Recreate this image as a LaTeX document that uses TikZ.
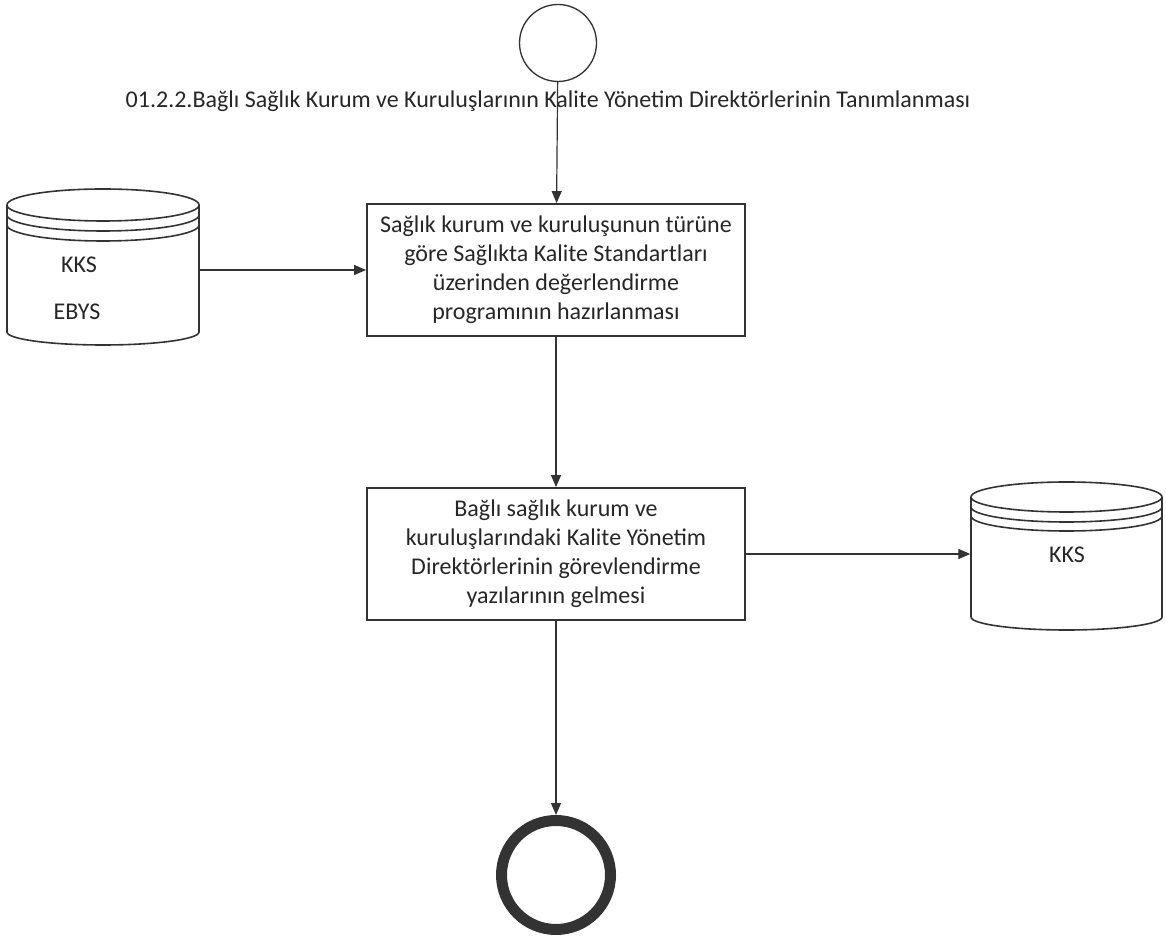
\documentclass[tikz,border=0pt]{standalone}
\usepackage{fontspec}
\setmainfont{Carlito}
\usepackage{tikz}
\usetikzlibrary{arrows.meta,calc,shapes.geometric}

\begin{document}
\begin{tikzpicture}[x=0.75pt,y=0.75pt,
		line width=1pt,draw=black!80,
		txt/.style={font=\fontsize{18}{21.75}\selectfont,text=black!85},
		procbox/.style={draw,line width=1.4pt,minimum width=283.5pt,minimum height=99pt,
			align=center,inner sep=0pt,txt},
		flow/.style={-{Triangle[length=9pt,width=7.5pt]},line width=0.9pt}]
	\useasboundingbox (0,0) rectangle (1166,946);
	% start / end events
	\node[circle,draw,line width=1pt,minimum size=57.75pt,inner sep=0pt] (start) at (558,903) {};
	\node[circle,draw,line width=8.25pt,minimum size=81.75pt,inner sep=0pt] (end) at (556,71) {};
	\node[txt] (title) at (548,845)
		{01.2.2.Bağlı Sağlık Kurum ve Kuruluşlarının Kalite Yönetim Direktörlerinin Tanımlanması};
	% activities
	\node[procbox] (prep) at (556,676) {Sağlık kurum ve kuruluşunun türüne\\göre Sağlıkta Kalite Standartları\\üzerinden değerlendirme\\programının hazırlanması};
	\node[procbox] (yazi) at (556,392) {Bağlı sağlık kurum ve\\kuruluşlarındaki Kalite Yönetim\\Direktörlerinin görevlendirme\\yazılarının gelmesi};
	% data stores
	\draw[line width=1.2pt] (7,741) -- (7,614) arc[start angle=180,end angle=360,x radius=96,y radius=13] -- (199,741);
	\draw[line width=1.2pt,fill=white] (103,741) ellipse[x radius=96,y radius=16];
	\foreach \dy in {10,20}
		\draw[line width=1.2pt] (7,741-\dy) arc[start angle=180,end angle=360,x radius=96,y radius=16];
	\node[minimum width=144pt,minimum height=90pt,inner sep=0pt] (dbL) at (103,676) {};
	\node[txt] (kksL) at (79,681) {KKS};
	\node[txt] (ebys) at (77,634) {EBYS};
	\draw[line width=1.2pt] (971,449) -- (971,329) arc[start angle=180,end angle=360,x radius=95.5,y radius=13] -- (1162,449);
	\draw[line width=1.2pt,fill=white] (1066.5,449) ellipse[x radius=95.5,y radius=15];
	\foreach \dy in {10,19}
		\draw[line width=1.2pt] (971,449-\dy) arc[start angle=180,end angle=360,x radius=95.5,y radius=15];
	\node[minimum width=143.25pt,minimum height=90pt,inner sep=0pt] (dbR) at (1066.5,392) {};
	\node[txt] (kksR) at (1067,391) {KKS};
	% flow
	\draw[flow] (start) -- (prep);
	\draw[flow] (dbL.east) -- (dbL.east -| prep.west);
	\draw[flow] (prep) -- (yazi);
	\draw[flow] (yazi.east) -- (yazi.east -| dbR.west);
	\draw[flow] (yazi) -- (end);
\end{tikzpicture}
\end{document}
